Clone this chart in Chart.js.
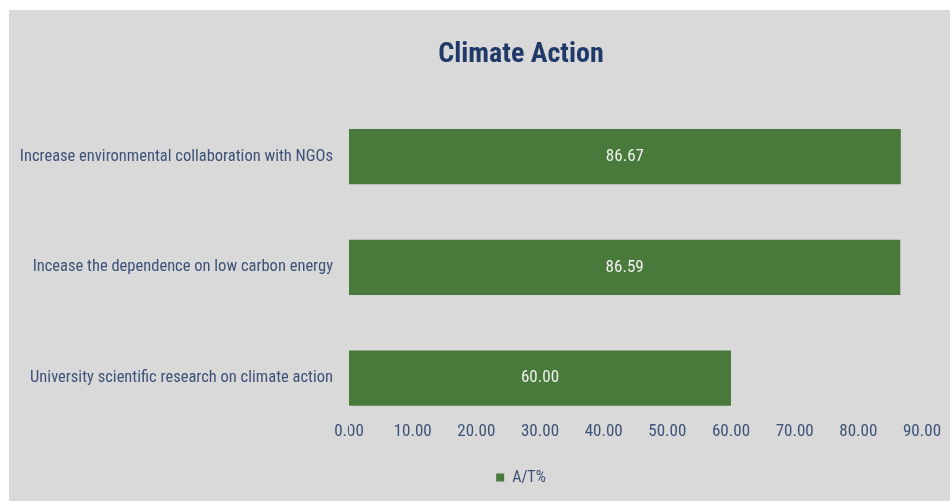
<!DOCTYPE html>
<html>
<head>
<meta charset="utf-8">
<script src="https://cdn.jsdelivr.net/npm/chart.js@4"></script>
<style>
  html, body { margin: 0; padding: 0; background: #ffffff; overflow: hidden; width: 950px; height: 501px; }
  #wrap { position: absolute; left: 9px; top: 10px; width: 1024px; height: 491px; background: #d9d9d9; }
  canvas { display: block; }
</style>
</head>
<body>
<div id="wrap"><canvas id="c" width="1024" height="491"></canvas></div>
<script>
const chartTitle = 'Climate Action';
const categories = [
  'Increase environmental collaboration with NGOs',
  'Incease the dependence on low carbon energy',
  'University scientific research on climate action'
];
const seriesName = 'A/T%';
const seriesValues = [86.67, 86.59, 60.00];
const tickValues = [0, 10, 20, 30, 40, 50, 60, 70, 80, 90];

const FONT = "'Roboto Condensed', Roboto, 'Liberation Sans', sans-serif";
const TEXT = '#3d5278';

const barLabels = {
  id: 'barLabels',
  afterDatasetsDraw(chart) {
    const ctx = chart.ctx;
    const meta = chart.getDatasetMeta(0);
    ctx.save();
    ctx.fillStyle = '#f0f0ee';
    ctx.font = '17px ' + FONT;
    ctx.textAlign = 'center';
    ctx.textBaseline = 'middle';
    meta.data.forEach((el, i) => {
      const v = chart.data.datasets[0].data[i];
      ctx.fillText(v.toFixed(2), (el.x + el.base) / 2, el.y);
    });
    ctx.restore();
  }
};

new Chart(document.getElementById('c'), {
  type: 'bar',
  data: {
    labels: categories,
    datasets: [{
      label: seriesName,
      data: seriesValues,
      backgroundColor: '#497a3c',
      borderWidth: 0,
      categoryPercentage: 1.0,
      barPercentage: 0.5
    }]
  },
  options: {
    indexAxis: 'y',
    responsive: false,
    animation: false,
    devicePixelRatio: 1,
    layout: { padding: { left: 0, right: 0, top: 0, bottom: 5.5 } },
    plugins: {
      title: {
        display: true,
        text: chartTitle,
        color: '#1f3a68',
        font: { family: FONT, size: 28, weight: 'bold', lineHeight: 1.2 },
        padding: { top: 28.2, bottom: 29.5 }
      },
      legend: {
        display: true,
        position: 'bottom',
        labels: {
          color: TEXT,
          font: { family: FONT, size: 16 },
          boxWidth: 8,
          boxHeight: 8,
          padding: 8
        }
      },
      tooltip: { enabled: false }
    },
    scales: {
      x: {
        type: 'linear',
        min: 0,
        max: 90,
        afterBuildTicks(scale) { scale.ticks = tickValues.map(v => ({ value: v })); },
        afterFit(scale) { scale.height = 28.1; },
        grid: { display: false, drawTicks: false },
        border: { display: false },
        ticks: {
          color: TEXT,
          font: { family: FONT, size: 17 },
          mirror: true,
          padding: -8.5,
          callback: v => Number(v).toFixed(2)
        }
      },
      y: {
        grid: { display: false, drawTicks: false },
        border: { display: true, color: '#dddee0', width: 1 },
        afterFit(scale) { scale.width = 340; },
        ticks: {
          color: TEXT,
          font: { family: FONT, size: 16.5 },
          padding: 16
        }
      },
      spacer: {
        type: 'linear',
        position: 'right',
        display: true,
        grid: { display: false, drawTicks: false },
        border: { display: false },
        ticks: { display: false },
        afterFit(scale) { scale.width = 111; }
      }
    }
  },
  plugins: [barLabels]
});
</script>
</body>
</html>
